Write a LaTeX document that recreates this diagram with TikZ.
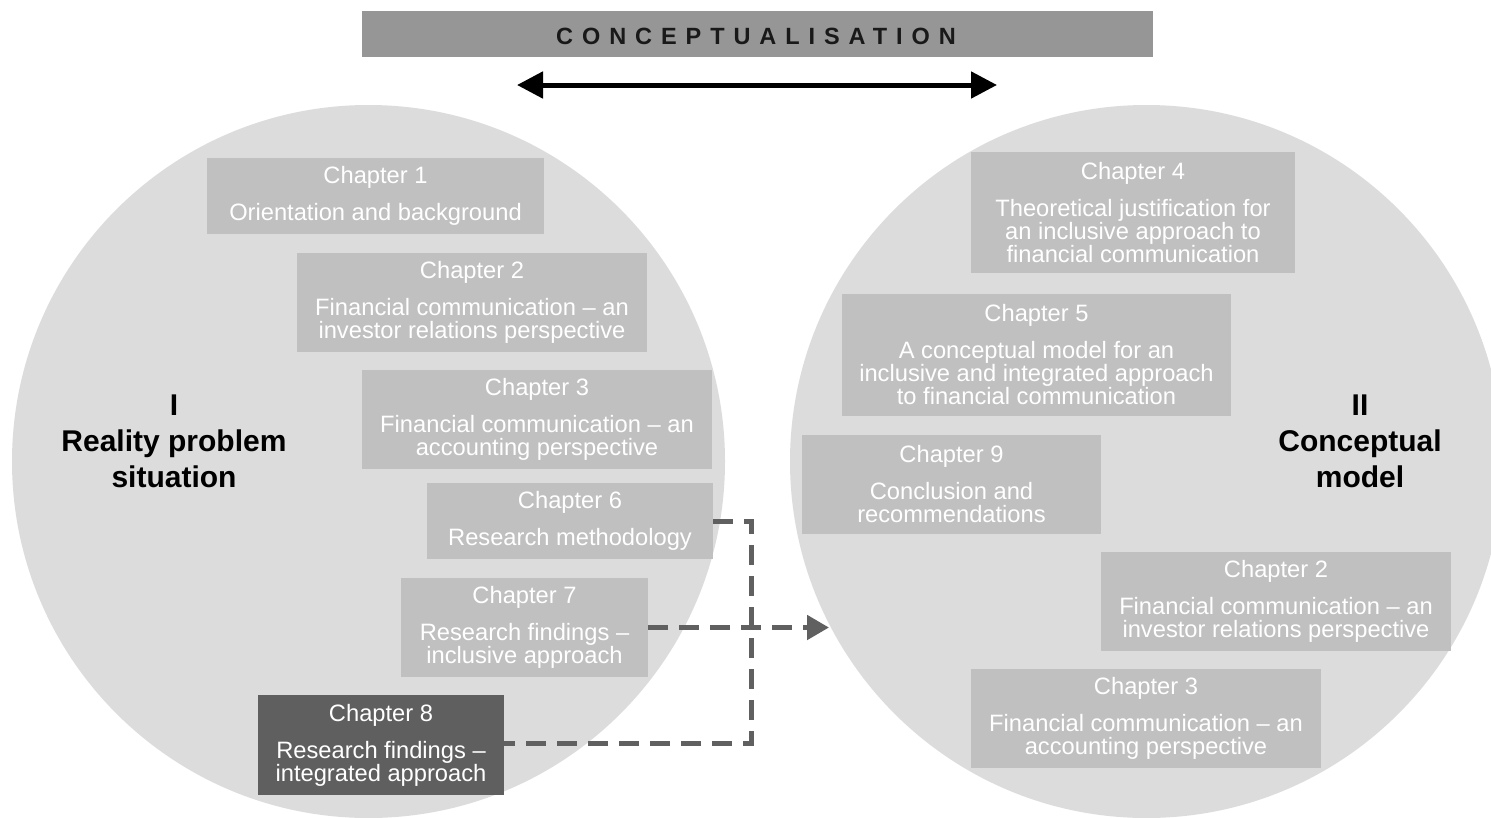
\documentclass[tikz,border=0pt]{standalone}
\usepackage{fontspec}
\setmainfont{Liberation Sans}
\newfontfamily\spacedfont[LetterSpace=38]{Liberation Sans}
\usetikzlibrary{arrows.meta}
\definecolor{circfill}{HTML}{DCDCDC}
\definecolor{boxgray}{HTML}{C0C0C0}
\definecolor{darkbox}{HTML}{5F5F5F}
\definecolor{bargray}{HTML}{969696}
\definecolor{dashgray}{HTML}{606060}
\newcommand\chaptext[2]{Chapter #1\\[14pt]#2}
\begin{document}
\begin{tikzpicture}[x=1pt,y=-1pt,
  chbox/.style={fill=boxgray, text=white, align=center, inner sep=0pt,
    font=\fontsize{23.7}{23}\selectfont},
  darkchbox/.style={chbox, fill=darkbox},
  biglabel/.style={align=center, inner sep=0pt, text=black,
    font=\fontsize{30}{36}\selectfont\bfseries},
  dashconn/.style={draw=dashgray, line width=5pt, dash pattern=on 20pt off 11pt},
  bigarrow/.style={line width=5pt, {Triangle[length=26pt,width=26pt]}-{Triangle[length=26pt,width=26pt]}}
]
\clip (0,0) rectangle (1491,817);
\fill[white] (0,0) rectangle (1491,817);

% circles
\fill[circfill] (368.5,461.5) circle (356.5);
\fill[circfill] (1146.5,461.5) circle (356.5);

% top bar
\fill[bargray] (362,11) rectangle (1153,57);
\node[inner sep=0pt, font=\fontsize{23.5}{23.5}\selectfont\spacedfont\bfseries, text=black!90]
  (bar) at (756,36) {CONCEPTUALISATION};

% double arrow
\coordinate (al) at (517,85);
\coordinate (ar) at (997,85);
\draw[bigarrow] (al) -- (ar);

% left boxes
\node[chbox, minimum width=337pt, minimum height=76pt] (c1) at (375.5,196)
  {\chaptext{1}{Orientation and background}};
\node[chbox, minimum width=350pt, minimum height=99pt] (c2) at (472,302.5)
  {\chaptext{2}{Financial communication -- an\\investor relations perspective}};
\node[chbox, minimum width=350pt, minimum height=99pt] (c3) at (537,419.5)
  {\chaptext{3}{Financial communication -- an\\accounting perspective}};
\node[chbox, minimum width=286pt, minimum height=76pt] (c6) at (570,521)
  {\chaptext{6}{Research methodology}};
\node[chbox, minimum width=247pt, minimum height=99pt] (c7) at (524.5,627.5)
  {\chaptext{7}{Research findings --\\inclusive approach}};
\node[darkchbox, minimum width=246pt, minimum height=100pt] (c8) at (381,745)
  {\chaptext{8}{Research findings --\\integrated approach}};

% right boxes
\node[chbox, minimum width=324pt, minimum height=121pt] (c4) at (1133,212.5)
  {\chaptext{4}{Theoretical justification for\\an inclusive approach to\\financial communication}};
\node[chbox, minimum width=389pt, minimum height=122pt] (c5) at (1036.5,355)
  {\chaptext{5}{A conceptual model for an\\inclusive and integrated approach\\to financial communication}};
\node[chbox, minimum width=299pt, minimum height=99pt] (c9) at (951.5,484.5)
  {\chaptext{9}{Conclusion and\\recommendations}};
\node[chbox, minimum width=350pt, minimum height=99pt] (c2r) at (1276,601.5)
  {\chaptext{2}{Financial communication -- an\\investor relations perspective}};
\node[chbox, minimum width=350pt, minimum height=99pt] (c3r) at (1146,718.5)
  {\chaptext{3}{Financial communication -- an\\accounting perspective}};

% labels
\node[biglabel] (lab1) at (174,441) {I\\Reality problem\\situation};
\node[biglabel] (lab2) at (1360,441) {II\\Conceptual\\model};

% dashed connectors
\draw[dashconn] (c6.east) -- ++(38,0) |- ([yshift=2pt]c8.east);
\coordinate (arrend) at (829,627.5);
\draw[dashconn, -{Triangle[length=22pt,width=24pt]}] (c7.east) -- (arrend);
\end{tikzpicture}
\end{document}
